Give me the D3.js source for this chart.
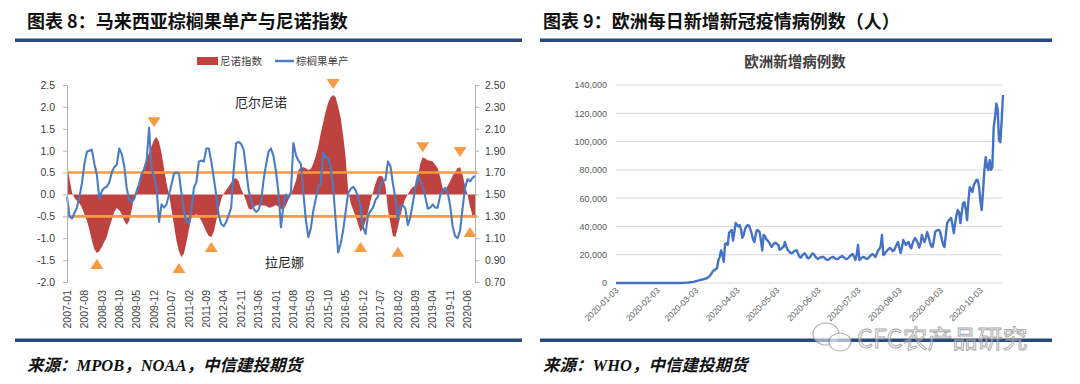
<!DOCTYPE html>
<html><head><meta charset="utf-8">
<script src="https://cdn.jsdelivr.net/npm/d3@7"></script>
<style>
body{margin:0;background:#fff;}
svg{display:block;}
</style></head>
<body><svg id="c" width="1080" height="384"></svg>
<script>
// ---------------- DATA: left chart (monthly, 2007-01 .. 2020-09) ----------------
const ninoStart = "2007-01";
const ninoIndex = [0.71,0.35,0.05,-0.08,-0.15,-0.2,-0.3,-0.45,-0.6,-0.8,
-1.05,-1.25,-1.34,-1.3,-1.2,-1.08,-0.97,-0.75,-0.58,-0.4,
-0.31,-0.36,-0.45,-0.6,-0.7,-0.6,-0.35,-0.05,0.1,0.2,
0.45,0.65,0.8,0.95,1.1,1.25,1.31,1.2,0.95,0.6,
0.25,0.0,-0.35,-0.7,-1.05,-1.3,-1.43,-1.35,-1.1,-0.8,
-0.55,-0.48,-0.45,-0.5,-0.6,-0.72,-0.85,-0.95,-0.97,-0.85,
-0.6,-0.35,-0.1,0.02,0.1,0.18,0.27,0.35,0.37,0.3,
0.12,0.0,-0.15,-0.32,-0.35,-0.3,-0.25,-0.24,-0.25,-0.25,
-0.26,-0.3,-0.3,-0.27,-0.24,-0.28,-0.33,-0.35,-0.25,-0.12,
0.0,0.15,0.3,0.55,0.62,0.62,0.6,0.56,0.58,0.7,
0.88,1.1,1.4,1.65,1.9,2.1,2.22,2.27,2.22,2.0,
1.75,1.35,0.85,0.1,-0.2,-0.35,-0.5,-0.68,-0.85,-0.78,
-0.62,-0.4,-0.15,0.05,0.25,0.4,0.43,0.4,0.2,-0.35,
-0.65,-0.95,-0.97,-0.75,-0.5,-0.25,-0.1,0.0,0.1,0.17,
0.2,0.4,0.7,0.85,0.82,0.78,0.77,0.75,0.68,0.6,
0.4,0.15,0.1,0.2,0.3,0.42,0.52,0.6,0.62,0.45,
0.2,0.0,-0.28,-0.48,-0.55];
const palmYield = [1.48,1.30,1.28,1.33,1.38,1.48,1.60,1.78,1.89,1.90,
1.91,1.78,1.68,1.46,1.53,1.56,1.57,1.61,1.70,1.75,
1.77,1.92,1.87,1.76,1.56,1.45,1.43,1.46,1.53,1.60,
1.69,1.73,1.81,2.11,1.73,1.66,1.56,1.25,1.41,1.38,
1.41,1.50,1.59,1.69,1.70,1.69,1.51,1.35,1.25,1.23,
1.36,1.56,1.61,1.80,1.81,1.80,1.92,1.92,1.80,1.65,
1.49,1.31,1.23,1.21,1.25,1.31,1.38,1.72,1.97,1.98,
1.96,1.91,1.73,1.54,1.45,1.37,1.34,1.36,1.43,1.63,
1.77,1.89,1.92,1.85,1.71,1.52,1.20,1.40,1.50,1.47,
1.52,1.97,1.86,1.81,1.78,1.52,1.27,1.11,1.19,1.35,
1.46,1.57,1.60,1.88,1.84,1.83,1.75,1.56,1.26,0.97,
1.05,1.17,1.34,1.51,1.55,1.57,1.54,1.48,1.38,1.20,
1.14,1.31,1.35,1.38,1.45,1.48,1.59,1.63,1.63,1.80,
1.76,1.60,1.47,1.27,1.39,1.40,1.37,1.22,1.29,1.42,
1.56,1.67,1.62,1.57,1.48,1.37,1.38,1.41,1.38,1.38,
1.49,1.53,1.56,1.52,1.40,1.21,1.12,1.10,1.17,1.37,
1.56,1.64,1.62,1.65,1.67];
const leftTickLabels = ["2007-01","2007-08","2008-03","2008-10","2009-05","2009-12","2010-07","2011-02","2011-09","2012-04","2012-11","2013-06","2014-01","2014-08","2015-03","2015-10","2016-05","2016-12","2017-07","2018-02","2018-09","2019-04","2019-11","2020-06"];
const leftAxisTicks = [-2.0,-1.5,-1.0,-0.5,0.0,0.5,1.0,1.5,2.0,2.5];
const rightAxisTicks = [0.70,0.90,1.10,1.30,1.50,1.70,1.90,2.10,2.30,2.50];
const thresholdLines = [0.5,-0.5];
const elNinoMarks = [{month:"2009-12",value:1.65},{month:"2015-12",value:2.52},{month:"2018-12",value:1.08},{month:"2020-03",value:0.97}];
const laNinaMarks = [{month:"2008-01",value:-1.59},{month:"2010-10",value:-1.68},{month:"2011-11",value:-1.2},{month:"2016-11",value:-1.2},{month:"2018-02",value:-1.31},{month:"2020-07",value:-0.86}];

// ---------------- DATA: right chart (daily from 2020-01-03, thousands of cases) ----------------
const casesStart = "2020-01-03";
const dailyCasesK = [0,0,0,0,0,0,0,0,0,0,0,0,0,0,0,0,0,0,0,0,0,0,0,0,0,0,0,0,0,0,
0,0,0,0,0,0,0,0,0,0,0,0,0,0,0,0,0,0,0,0,
0.1,0.1,0.2,0.3,0.3,0.4,0.5,0.6,
0.8,1.0,1.3,1.5,1.8,2.0,2.3,2.5,2.7,3.0,3.3,3.8,4.5,5.5,7.0,8.5,9.0,9.8,10.6,16.0,18.5,23.0,20.0,15.0,27.5,28.0,27.0,35.5,36.5,37.5,30.0,
36.0,42.4,41.0,40.0,41.0,38.0,32.0,34.0,38.0,40.0,41.0,40.5,38.0,35.0,31.0,29.0,34.0,37.5,37.0,36.0,30.0,23.0,34.0,33.0,31.0,30.0,29.0,27.0,25.5,27.0,
28.0,28.5,27.5,27.0,23.5,24.0,25.0,25.5,29.0,26.0,23.5,22.5,21.5,21.0,21.5,22.5,23.0,23.0,20.5,18.5,18.0,19.5,20.5,21.0,19.5,17.7,17.5,18.5,20.0,21.0,20.0,
18.5,17.5,17.0,17.8,18.2,18.4,18.4,17.5,16.8,16.3,16.5,17.5,18.0,18.4,18.0,17.2,17.0,17.0,18.0,18.5,19.0,18.5,17.5,17.0,17.2,18.0,19.0,20.0,20.5,18.5,
16.3,20.0,26.9,16.3,17.0,18.0,18.4,18.0,17.2,17.0,18.0,19.0,20.0,20.5,19.5,18.4,20.5,23.0,24.0,26.0,33.9,19.8,20.5,22.0,23.0,24.0,24.7,24.0,22.5,23.0,25.0,
27.0,29.0,25.0,21.2,25.0,30.4,28.5,27.0,28.0,29.0,26.0,24.5,28.0,30.5,31.8,30.0,28.0,25.0,28.0,33.9,31.0,29.0,32.0,36.0,33.0,29.0,26.0,25.4,30.0,36.0,37.0,
37.5,37.5,35.0,31.0,27.0,25.4,34.0,42.4,44.0,45.0,46.0,41.0,35.3,42.0,48.0,51.6,50.0,42.4,50.0,56.5,57.2,52.0,44.5,58.0,67.8,66.0,64.3,69.2,71.0,72.8,
72.8,68.0,58.0,51.6,65.0,79.9,89.0,82.0,79.9,86.9,80.0,82.0,110.0,117.0,127.0,123.0,101.0,99.6,115.0,132.9];
const rightTickLabels = ["2020-01-03","2020-02-03","2020-03-03","2020-04-03","2020-05-03","2020-06-03","2020-07-03","2020-08-03","2020-09-03","2020-10-03"];
const casesAxisTicks = [0,20000,40000,60000,80000,100000,120000,140000];

// ---------------- DRAWING ----------------
const svg = d3.select("#c");
const CJK = "'Noto Sans CJK SC','Noto Sans',sans-serif";
const NUM = "'Liberation Sans',Arial,sans-serif";
const RULE = "#27497b";
const ORANGE = "#F79A42";

// headers & rules
svg.append("text").attr("x",27).attr("y",28).attr("font-family",CJK).attr("font-size",18).attr("font-weight",700).attr("fill","#111").text("图表 8：马来西亚棕榈果单产与尼诺指数");
svg.append("text").attr("x",543).attr("y",28).attr("font-family",CJK).attr("font-size",18).attr("font-weight",700).attr("fill","#111").text("图表 9：欧洲每日新增新冠疫情病例数（人）");
[[15,522],[540,1052]].forEach(([a,b])=>{
  svg.append("rect").attr("x",a).attr("y",38.5).attr("width",b-a).attr("height",3.5).attr("fill",RULE);
  svg.append("rect").attr("x",a).attr("y",338.5).attr("width",b-a).attr("height",3.5).attr("fill",RULE);
});
function source(x, parts){
  const t = svg.append("text").attr("x",x).attr("y",371).attr("font-size",16.5).attr("font-style","italic").attr("font-weight",700).attr("fill","#111");
  parts.forEach(p=>t.append("tspan").attr("font-family",p[1]?"'Liberation Serif','Times New Roman',serif":CJK).text(p[0]));
}
source(27,[["来源："],["MPOB",1],["，"],["NOAA",1],["，中信建投期货"]]);
source(543,[["来源："],["WHO",1],["，中信建投期货"]]);

// ---------- left chart ----------
const n = ninoIndex.length;
const xL = d3.scaleLinear().domain([0,n-1]).range([67,475]);
const yL = d3.scaleLinear().domain([-2,2.5]).range([282,85]);
const yR = d3.scaleLinear().domain([0.7,2.5]).range([282,85]);
const [sy,sm] = ninoStart.split("-").map(Number);
const monthIdx = s => { const [y,m]=s.split("-").map(Number); return (y-sy)*12+(m-sm); };

const g = svg.append("g");
g.append("path").datum(ninoIndex)
  .attr("d", d3.area().x((d,i)=>xL(i)).y0(yL(0)).y1(d=>yL(d)))
  .attr("fill","#BE4340");
thresholdLines.forEach(v=>{
  g.append("line").attr("x1",xL(0)).attr("x2",xL(n-1)+2).attr("y1",yL(v)).attr("y2",yL(v))
   .attr("stroke",ORANGE).attr("stroke-width",2.6);
});
g.append("path").datum(palmYield)
  .attr("d", d3.line().x((d,i)=>xL(i)).y(d=>yR(d)))
  .attr("fill","none").attr("stroke","#4A7DC4").attr("stroke-width",2.1).attr("stroke-linejoin","round");

const tri = (cx,cy,down)=> down
  ? `M${cx-6.5},${cy-5}L${cx+6.5},${cy-5}L${cx},${cy+5}Z`
  : `M${cx-6.5},${cy+5}L${cx+6.5},${cy+5}L${cx},${cy-5}Z`;
elNinoMarks.forEach(d=>g.append("path").attr("d",tri(xL(monthIdx(d.month)),yL(d.value),true)).attr("fill",ORANGE));
laNinaMarks.forEach(d=>g.append("path").attr("d",tri(xL(monthIdx(d.month)),yL(d.value),false)).attr("fill",ORANGE));

// axes
const fmt1 = d=>d.toFixed(1), fmt2 = d=>d.toFixed(2);
const axL = g.append("g").attr("transform","translate(67,0)")
  .call(d3.axisLeft(yL).tickValues(leftAxisTicks).tickFormat(fmt1).tickSize(4).tickSizeOuter(0).tickPadding(8));
const axR = g.append("g").attr("transform","translate(475,0)")
  .call(d3.axisRight(yR).tickValues(rightAxisTicks).tickFormat(fmt2).tickSize(4).tickSizeOuter(0).tickPadding(6));
[axL,axR].forEach(a=>{
  a.selectAll("path,line").attr("stroke","#b5b5b5");
  a.selectAll("text").attr("font-family",NUM).attr("font-size",10.5).attr("fill","#404040");
});
leftTickLabels.forEach(s=>{
  g.append("text").attr("transform",`translate(${xL(monthIdx(s))},290) rotate(-90)`)
   .attr("text-anchor","end").attr("dy","0.35em").attr("font-family",NUM).attr("font-size",10.5).attr("fill","#404040").text(s);
});
// legend
g.append("rect").attr("x",197).attr("y",57).attr("width",21).attr("height",8).attr("fill","#BE4340");
g.append("text").attr("x",220).attr("y",65).attr("font-family",CJK).attr("font-size",10.5).attr("fill","#404040").text("尼诺指数");
g.append("line").attr("x1",275).attr("x2",294).attr("y1",61).attr("y2",61).attr("stroke","#4A7DC4").attr("stroke-width",2.5);
g.append("text").attr("x",296).attr("y",65).attr("font-family",CJK).attr("font-size",10.5).attr("fill","#404040").text("棕榈果单产");
g.append("text").attr("x",235).attr("y",107).attr("font-family",CJK).attr("font-size",13).attr("fill","#262626").text("厄尔尼诺");
g.append("text").attr("x",265).attr("y",267).attr("font-family",CJK).attr("font-size",13).attr("fill","#262626").text("拉尼娜");

// ---------- right chart ----------
const parse = d3.utcParse("%Y-%m-%d");
const t0 = parse(casesStart);
const dates = dailyCasesK.map((d,i)=>d3.utcDay.offset(t0,i));
const xR = d3.scaleUtc().domain([t0, dates[dates.length-1]]).range([616,1003]);
const yC = d3.scaleLinear().domain([0,140000]).range([283,85]);
const h = svg.append("g");
casesAxisTicks.forEach(v=>{
  h.append("line").attr("x1",616).attr("x2",1002).attr("y1",yC(v)).attr("y2",yC(v)).attr("stroke","#d9d9d9").attr("stroke-width",1);
});
const axC = h.append("g").attr("transform","translate(607,0)")
  .call(d3.axisLeft(yC).tickValues(casesAxisTicks).tickFormat(d3.format(",")).tickSize(0).tickPadding(0));
axC.select(".domain").remove();
axC.selectAll("text").attr("font-family",NUM).attr("font-size",9).attr("fill","#595959");
rightTickLabels.forEach(s=>{
  const x = xR(parse(s));
  h.append("text").attr("transform",`translate(${x+3},291) rotate(-45)`)
   .attr("text-anchor","end").attr("font-family",NUM).attr("font-size",8.5).attr("fill","#595959").text(s);
});
h.append("path").datum(dailyCasesK)
  .attr("d", d3.line().x((d,i)=>xR(dates[i])).y(d=>yC(d*1000)))
  .attr("fill","none").attr("stroke","#4472C4").attr("stroke-width",2.4).attr("stroke-linejoin","round");
h.append("text").attr("x",795).attr("y",67).attr("text-anchor","middle").attr("font-family",CJK).attr("font-size",14.5).attr("font-weight",700).attr("fill","#404040").text("欧洲新增病例数");

// watermark
const w = svg.append("g").attr("opacity",0.75);
w.append("ellipse").attr("cx",826).attr("cy",334).attr("rx",13).attr("ry",11).attr("fill","rgba(255,255,255,0.7)").attr("stroke","#9a9a9a").attr("stroke-width",1.2);
w.append("ellipse").attr("cx",840).attr("cy",342).attr("rx",11).attr("ry",9).attr("fill","rgba(255,255,255,0.8)").attr("stroke","#9a9a9a").attr("stroke-width",1.2);
w.append("text").attr("x",857).attr("y",348).attr("font-family",CJK).attr("font-size",25).attr("fill","rgba(255,255,255,0.6)").attr("stroke","#8a8a8a").attr("stroke-width",0.9).text("CFC农产品研究");
</script></body></html>
